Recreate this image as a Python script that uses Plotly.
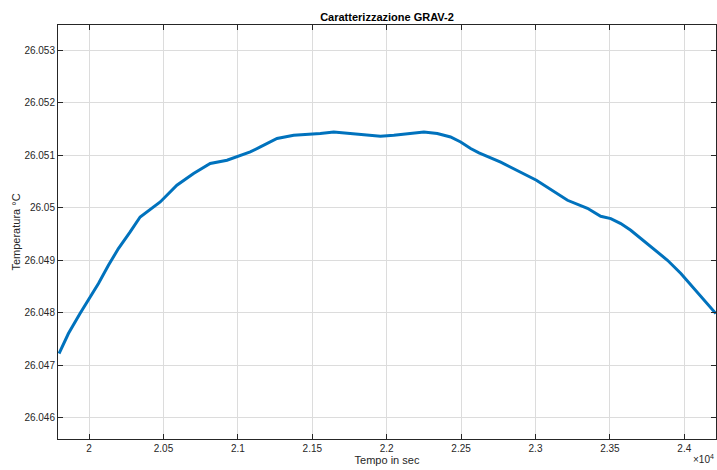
import plotly.graph_objects as go

time_s = [19798, 19861, 19939, 19995, 20063, 20130, 20197, 20276, 20343, 20478,
          20590, 20702, 20814, 20927, 21001, 21083, 21151, 21263, 21375, 21487,
          21554, 21644, 21756, 21869, 21958, 22048, 22160, 22250, 22340, 22429,
          22497, 22564, 22620, 22766, 23006, 23215, 23349, 23438, 23506, 23573,
          23640, 23708, 23797, 23887, 23977, 24066, 24157, 24212]
temp_c = [26.047226, 26.047607, 26.047987, 26.048241, 26.048559, 26.048907, 26.049225,
          26.049541, 26.049826, 26.050112, 26.050430, 26.050653, 26.050843, 26.050906,
          26.050982, 26.051064, 26.051159, 26.051319, 26.051382, 26.051401, 26.051414,
          26.051445, 26.051414, 26.051382, 26.051363, 26.051382, 26.051414, 26.051445,
          26.051414, 26.051349, 26.051254, 26.051129, 26.051045, 26.050868, 26.050525,
          26.050144, 26.049992, 26.049840, 26.049796, 26.049701, 26.049573, 26.049415,
          26.049225, 26.049002, 26.048749, 26.048463, 26.048178, 26.047987]

x_tick_vals = [20000, 20500, 21000, 21500, 22000, 22500, 23000, 23500, 24000]
x_tick_text = ["2", "2.05", "2.1", "2.15", "2.2", "2.25", "2.3", "2.35", "2.4"]
y_tick_vals = [26.046, 26.047, 26.048, 26.049, 26.050, 26.051, 26.052, 26.053]
y_tick_text = ["26.046", "26.047", "26.048", "26.049", "26.05", "26.051", "26.052", "26.053"]

FONT = "Liberation Sans, Arial, Helvetica, sans-serif"
AX = "#262626"
GRID = "#dcdcdc"

fig = go.Figure()
fig.add_trace(go.Scatter(x=time_s, y=temp_c, mode="lines",
                         line=dict(color="#0072BD", width=3), showlegend=False))

fig.update_layout(
    width=717, height=470,
    margin=dict(l=58, r=1, t=25, b=31),
    paper_bgcolor="white", plot_bgcolor="white",
    font=dict(family=FONT, size=10, color=AX),
    title=dict(text="<b>Caratterizzazione GRAV-2</b>", x=(58 + 716) / 2 / 717, xanchor="center",
               y=1 - 17 / 470, yanchor="middle", font=dict(size=11, color="black")),
)
fig.update_xaxes(range=[19791, 24213], tickvals=x_tick_vals, ticktext=x_tick_text,
                 ticks="inside", ticklen=5, tickcolor=AX, showline=True, linecolor=AX,
                 linewidth=1, mirror="ticks", showgrid=True, gridcolor=GRID, gridwidth=1,
                 zeroline=False, title=dict(text="Tempo in sec", standoff=2, font=dict(size=11)))
fig.update_yaxes(range=[26.0456, 26.05348], tickvals=y_tick_vals, ticktext=y_tick_text,
                 ticks="inside", ticklen=5, tickcolor=AX, showline=True, linecolor=AX,
                 linewidth=1, mirror="ticks", showgrid=True, gridcolor=GRID, gridwidth=1,
                 zeroline=False, title=dict(text="Temperatura °C", standoff=1, font=dict(size=11)))
fig.add_annotation(text="×10<sup>4</sup>", xref="paper", yref="paper", x=1.0, y=-0.028,
                   xanchor="right", yanchor="top", showarrow=False, font=dict(size=10, color=AX))

fig.write_html("out.html", config={"displayModeBar": False},
               post_script="document.body.style.margin='0';")
